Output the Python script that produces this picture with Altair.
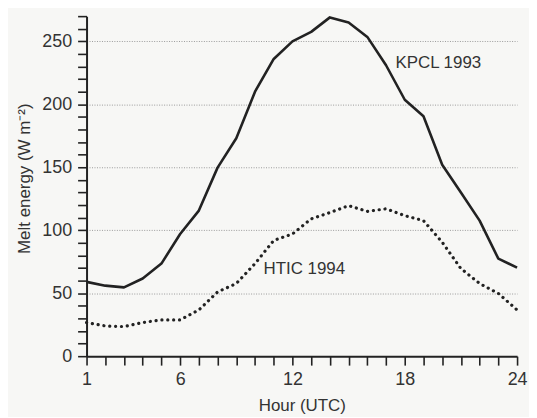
import altair as alt
import pandas as pd

hours = list(range(1, 25))
kpcl_1993 = [59, 56, 54.6, 61.7, 73.5, 97, 115.6, 149.7, 173, 210, 236, 250,
             257.5, 269, 265, 253.5, 231, 203.6, 190.5, 152, 130, 107.6, 77.4, 70.3]
htic_1994 = [26.7, 24, 23.5, 26.7, 28.8, 28.8, 36.7, 51, 57.7, 73.5, 91.9, 97,
             109, 114, 119.5, 115, 117, 111.6, 107.6, 90.5, 69.5, 57.7, 49.8, 36.7]
series_names = ["KPCL 1993", "HTIC 1994"]
label_hours = [17.5, 10.45]
label_values = [233, 69]

rows = []
for h, a, b in zip(hours, kpcl_1993, htic_1994):
    rows.append({"hour": h, "value": a, "series": series_names[0]})
    rows.append({"hour": h, "value": b, "series": series_names[1]})
df = pd.DataFrame(rows)
labels = pd.DataFrame({"name": series_names, "hour": label_hours, "value": label_values})

FONT = "Liberation Sans"
INK = "#222222"

x_scale = alt.Scale(domain=[1, 24], nice=False, zero=False)
y_scale = alt.Scale(domain=[0, 270], nice=False)

x_axis = alt.Axis(
    values=list(range(1, 25)), tickCount=200, labelOverlap=False, format="d",
    labelFlush=False,
    labelExpr="indexof([1,6,12,18,24], datum.value) >= 0 ? datum.label : ''",
    title="Hour (UTC)", grid=False, tickSize=9, tickWidth=1.6, tickColor=INK,
    domainColor=INK, domainWidth=2, labelFont=FONT, labelFontSize=18,
    labelColor="#333", labelPadding=5, titleFont=FONT, titleFontSize=17,
    titleFontWeight="normal", titleColor="#333", titlePadding=10,
)
y_axis = alt.Axis(
    values=list(range(0, 271, 10)), tickCount=200, labelOverlap=False, format="d",
    labelFlush=False,
    labelExpr="datum.value % 50 === 0 ? datum.label : ''",
    title="Melt energy (W m\u207b\u00b2)", grid=True,
    gridOpacity={"condition": {"test": "datum.value % 50 === 0 && datum.value > 0", "value": 1}, "value": 0},
    gridColor="#9a9a9a", gridDash=[1, 1.5], gridWidth=1,
    tickSize=9, tickWidth=1.6, tickColor=INK, domainColor=INK, domainWidth=2,
    labelFont=FONT, labelFontSize=18, labelColor="#333", labelPadding=6,
    titleFont=FONT, titleFontSize=17, titleFontWeight="normal", titleColor="#333",
    titlePadding=8, titleY=178 - 15,
)

base = alt.Chart(df)

solid = base.transform_filter(alt.datum.series == series_names[0]).mark_line(
    color=INK, strokeWidth=2.6, strokeJoin="round"
).encode(
    x=alt.X("hour:Q", scale=x_scale, axis=x_axis),
    y=alt.Y("value:Q", scale=y_scale, axis=y_axis),
)

dotted = base.transform_filter(alt.datum.series == series_names[1]).mark_line(
    color=INK, strokeWidth=3.2, strokeDash=[0.1, 5.8], strokeCap="round"
).encode(
    x=alt.X("hour:Q", scale=x_scale),
    y=alt.Y("value:Q", scale=y_scale),
)

text = alt.Chart(labels).mark_text(
    align="left", baseline="middle", font=FONT, fontSize=17, color="#333"
).encode(
    x=alt.X("hour:Q", scale=x_scale),
    y=alt.Y("value:Q", scale=y_scale),
    text="name:N",
)

chart = alt.layer(solid, dotted, text).properties(
    width=433, height=342,
    autosize=alt.AutoSizeParams(type="none"),
    padding={"left": 79, "top": 7, "right": 12, "bottom": 60},
    background="#f7f7f5",
).configure_view(stroke=None)

chart.save("out.html", embed_options={"renderer": "svg", "actions": False})
